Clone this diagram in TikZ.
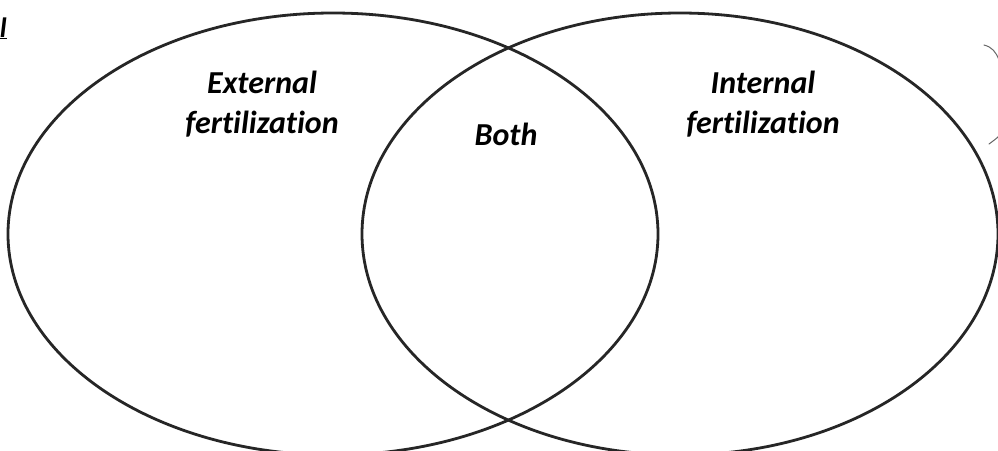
\documentclass[tikz,border=0pt]{standalone}
\usepackage{fontspec}
\setmainfont{Carlito}[Ligatures={NoCommon}]
\usetikzlibrary{shapes.geometric}
\definecolor{ringcol}{HTML}{262626}
\tikzset{
  ring/.style={draw=ringcol, line width=2.8pt, ellipse, inner sep=0pt, minimum width=#1},
  lbl/.style={font=\fontsize{32}{38}\selectfont\bfseries\itshape, align=center, inner sep=0pt, text=black},
  frag/.style={draw=black!60, line width=1pt, line cap=round}
}
\begin{document}
\begin{tikzpicture}[x=1pt,y=-1pt]
\useasboundingbox (0,0) rectangle (998,450);
\clip (0,0) rectangle (998,450);
\fill[white] (0,0) rectangle (998,450);
\node[ring=650pt, minimum height=442pt] (left) at (333,234) {};
\node[ring=636pt, minimum height=442pt] (right) at (680,234) {};
% text
\node[lbl, anchor=base] (ext1) at (262,93) {External};
\node[lbl, anchor=base] (ext2) at (262,133) {fertilization};
\node[lbl, anchor=base] (both) at (506,145) {Both};
\node[lbl, anchor=base] (int1) at (763,93) {Internal};
\node[lbl, anchor=base] (int2) at (763,133) {fertilization};
% cut-off fragments at edges
\node[font=\fontsize{28}{32}\selectfont\bfseries\itshape, anchor=base east, inner sep=0pt] (frag) at (7,37) {\underline{l}};
\coordinate (b1) at (984,45);
\coordinate (b2) at (999,60);
\coordinate (b3) at (989,144);
\coordinate (b4) at (999,136);
\draw[frag] (b1) .. controls (992,47) and (996,52) .. (b2);
\draw[frag] (b3) .. controls (993,141) and (996,139) .. (b4);
\end{tikzpicture}
\end{document}
